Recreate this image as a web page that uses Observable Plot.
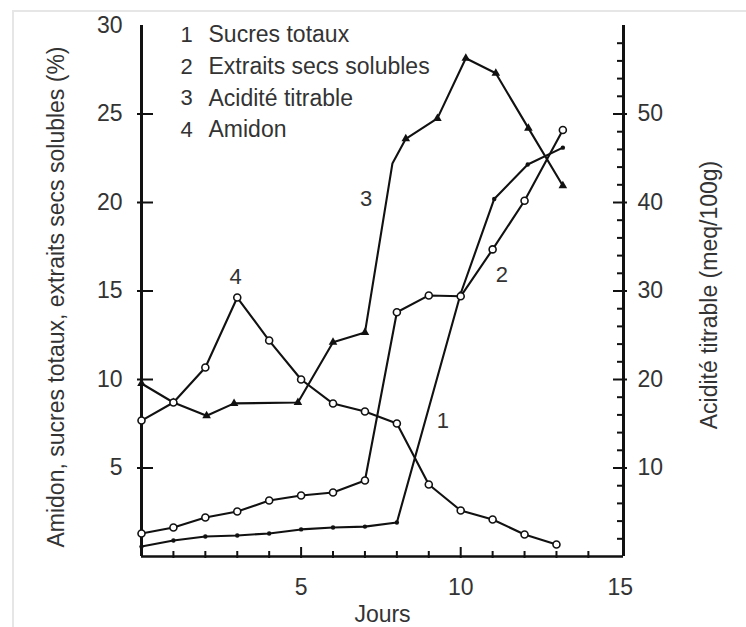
<!DOCTYPE html>
<html><head><meta charset="utf-8">
<script src="https://cdn.jsdelivr.net/npm/d3@7"></script>
<script src="https://cdn.jsdelivr.net/npm/@observablehq/plot@0.6"></script>
<style>
html,body{margin:0;padding:0;background:#fff;}
#wrap{position:relative;width:746px;height:627px;overflow:hidden;background:#fff;}
#edge{position:absolute;left:12px;top:10px;right:0;bottom:0;border-left:2px solid #e6e6e6;border-top:2px solid #e6e6e6;}
#chart{position:absolute;left:0;top:0;}
</style></head><body>
<div id="wrap"><div id="edge"></div><div id="chart"></div></div>
<script>
// ---- data ----
// 1 Sucres totaux (%), left axis
const sucresDays   = [0, 1, 2, 3, 4, 5, 6, 7, 8, 10, 11.05, 12.1, 13.2];
const sucresValues = [0.56, 0.9, 1.13, 1.19, 1.3, 1.53, 1.64, 1.69, 1.92, 14.86, 20.2, 22.15, 23.1];
// 2 Extraits secs solubles (%), left axis
const extraitsDays   = [0, 1, 2, 3, 4, 5, 6, 7, 8, 9, 10, 11, 12, 13.2];
const extraitsValues = [1.3, 1.64, 2.2, 2.54, 3.16, 3.45, 3.62, 4.29, 13.8, 14.75, 14.7, 17.35, 20.1, 24.1];
// 3 Acidité titrable (meq/100g), right axis
const aciditeDays   = [0, 1, 2.04, 2.9, 4.9, 6, 7, 7.86, 8.28, 9.27, 10.16, 11.1, 12.12, 13.2];
const aciditeValues = [19.55, 17.4, 15.9, 17.3, 17.4, 24.2, 25.3, 44.4, 47.2, 49.5, 56.3, 54.6, 48.4, 41.9];
const aciditeMarked = [true, true, true, true, true, true, true, false, true, true, true, true, true, true];
// 4 Amidon (%), left axis
const amidonDays   = [0, 1, 2, 3, 4, 5, 6, 7, 8, 9, 10, 11, 12, 13];
const amidonValues = [7.68, 8.7, 10.68, 14.63, 12.2, 10.0, 8.64, 8.19, 7.51, 4.07, 2.6, 2.09, 1.24, 0.68];

// legend and in-chart labels
const legendNumbers = ["1", "2", "3", "4"];
const legendLabels = ["Sucres totaux", "Extraits secs solubles", "Acidité titrable", "Amidon"];
const seriesLabelText = ["1", "2", "3", "4"];
const seriesLabelX = [9.44, 11.29, 7.04, 2.95];
const seriesLabelY = [7.68, 15.9, 20.2, 15.8];

// axes
const xTickLabels = [5, 10, 15];
const xMinorTicks = [1, 2, 3, 4, 6, 7, 8, 9, 11, 12, 13, 14];
const xMajorTicks = [5, 10];
const leftTickLabels = [5, 10, 15, 20, 25, 30];
const leftTicks = [5, 10, 15, 20, 25];
const rightTickLabels = [10, 20, 30, 40, 50];
const rightMinorTicks = [2, 4, 6, 8, 12, 14, 16, 18, 22, 24, 26, 28, 32, 34, 36, 38, 42, 44, 46, 48, 52, 54, 56, 58];
const xTitle = "Jours";
const leftTitle = "Amidon, sucres totaux, extraits secs solubles (%)";
const rightTitle = "Acidité titrable (meq/100g)";

// ---- build ----
const W = 746, H = 627, mL = 141, mR = 123, mT = 25, mB = 71;
const fw = W - mL - mR, fh = H - mT - mB;
const xMax = 15.1, yMax = 30;
const ratio = 2; // right axis = 2 × left axis

const sucres = sucresDays.map((d, i) => ({day: d, v: sucresValues[i]}));
const extraits = extraitsDays.map((d, i) => ({day: d, v: extraitsValues[i]}));
const acidite = aciditeDays.map((d, i) => ({day: d, v: aciditeValues[i] / ratio, m: aciditeMarked[i]}));
const amidon = amidonDays.map((d, i) => ({day: d, v: amidonValues[i]}));
const seriesLabels = seriesLabelText.map((t, i) => ({t, x: seriesLabelX[i], y: seriesLabelY[i]}));

const ink = "#111", txt = "#333";
const lineW = 2.1;

const marks = [
  // axis lines
  Plot.ruleX([0], {stroke: ink, strokeWidth: 3}),
  Plot.ruleX([xMax], {stroke: ink, strokeWidth: 3}),
  Plot.ruleY([0], {stroke: ink, strokeWidth: 2.6}),
  // bottom ticks
  Plot.ruleX(xMinorTicks, {x: d => d, stroke: ink, strokeWidth: 2, insetTop: fh - 5, insetBottom: -2}),
  Plot.ruleX(xMajorTicks, {x: d => d, stroke: ink, strokeWidth: 2, insetTop: fh - 9, insetBottom: -2}),
  // left ticks
  Plot.ruleY(leftTicks, {y: d => d, stroke: ink, strokeWidth: 2, insetRight: fw - 12, insetLeft: -4}),
  // right ticks
  Plot.ruleY(rightTickLabels, {y: d => d / ratio, stroke: ink, strokeWidth: 2, insetLeft: fw - 10, insetRight: -4}),
  Plot.ruleY(rightMinorTicks, {y: d => d / ratio, stroke: ink, strokeWidth: 2, insetLeft: fw - 6, insetRight: -2}),
  // axis labels
  Plot.axisX(xTickLabels, {tickSize: 0, tickPadding: 22, label: null, fontSize: 23, fill: txt}),
  Plot.axisY(leftTickLabels, {anchor: "left", tickSize: 0, tickPadding: 19, label: null, fontSize: 23, fill: txt}),
  Plot.axisY(rightTickLabels.map(d => d / ratio), {anchor: "right", tickSize: 0, tickPadding: 14, label: null, fontSize: 23, fill: txt, tickFormat: d => String(Math.round(d * ratio))}),
  // axis titles
  Plot.text([xTitle], {text: d => d, frameAnchor: "bottom", dy: 58, lineAnchor: "middle", fontSize: 23, fill: txt}),
  Plot.text([leftTitle], {text: d => d, frameAnchor: "left", textAnchor: "middle", lineAnchor: "middle", dx: -85, dy: 6, rotate: -90, fontSize: 23, fill: txt}),
  Plot.text([rightTitle], {text: d => d, frameAnchor: "right", textAnchor: "middle", lineAnchor: "middle", dx: 86, dy: 4, rotate: -90, fontSize: 23, fill: txt}),
  // lines
  Plot.line(sucres, {x: "day", y: "v", stroke: ink, strokeWidth: lineW}),
  Plot.line(extraits, {x: "day", y: "v", stroke: ink, strokeWidth: lineW}),
  Plot.line(acidite, {x: "day", y: "v", stroke: ink, strokeWidth: lineW}),
  Plot.line(amidon, {x: "day", y: "v", stroke: ink, strokeWidth: lineW}),
  // markers
  Plot.dot(sucres, {x: "day", y: "v", r: 2.2, fill: ink}),
  Plot.dot(acidite.filter(d => d.m), {x: "day", y: "v", symbol: "triangle", r: 3.2, fill: ink}),
  Plot.dot(extraits, {x: "day", y: "v", r: 3.5, fill: "white", stroke: ink, strokeWidth: 1.6}),
  Plot.dot(amidon, {x: "day", y: "v", r: 3.5, fill: "white", stroke: ink, strokeWidth: 1.6}),
  // series labels
  Plot.text(seriesLabels, {x: "x", y: "y", text: "t", fontSize: 22, fill: txt}),
  // legend
  ...legendLabels.map((lab, i) => Plot.text([legendNumbers[i]], {text: d => d, frameAnchor: "top-left", textAnchor: "middle", lineAnchor: "middle", dx: 45, dy: 9.5 + i * 31.7, fontSize: 22, fill: txt})),
  ...legendLabels.map((lab, i) => Plot.text([lab], {text: d => d, frameAnchor: "top-left", textAnchor: "start", lineAnchor: "middle", dx: 67, dy: 9.5 + i * 31.7, fontSize: 23, fill: txt}))
];

const chart = Plot.plot({
  width: W, height: H,
  marginLeft: mL, marginRight: mR, marginTop: mT, marginBottom: mB,
  x: {domain: [0, xMax]},
  y: {domain: [0, yMax]},
  style: {fontFamily: "'Liberation Sans', Arial, sans-serif", fontSize: "23px", color: txt, background: "transparent", overflow: "visible"},
  marks
});
document.getElementById("chart").appendChild(chart);
</script>
</body></html>
